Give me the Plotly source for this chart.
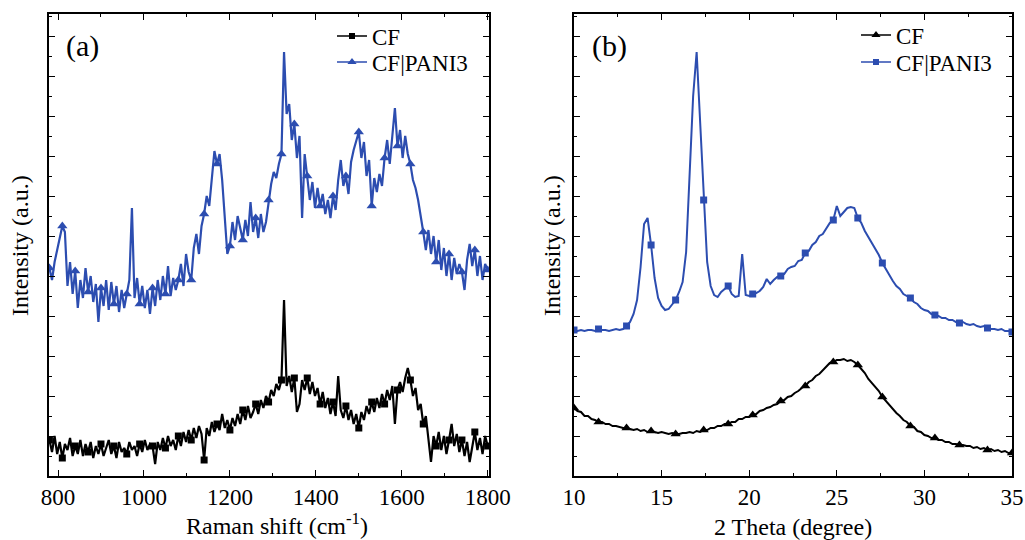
import plotly.graph_objects as go

# ---------------- Panel (a): Raman ----------------
RAMAN_SHIFT = [
    780, 786, 792, 798, 804, 810, 816, 822, 828, 834,
    840, 846, 852, 858, 864, 870, 876, 882, 888, 894,
    900, 906, 912, 918, 924, 930, 936, 942, 948, 954,
    960, 966, 972, 978, 984, 990, 996, 1002, 1008, 1014,
    1020, 1026, 1032, 1038, 1044, 1050, 1056, 1062, 1068, 1074,
    1080, 1086, 1092, 1098, 1104, 1110, 1116, 1122, 1128, 1134,
    1140, 1146, 1152, 1158, 1164, 1170, 1176, 1182, 1188, 1194,
    1200, 1206, 1212, 1218, 1224, 1230, 1236, 1242, 1248, 1254,
    1260, 1266, 1272, 1278, 1284, 1290, 1296, 1302, 1308, 1314,
    1320, 1326, 1332, 1338, 1344, 1350, 1356, 1362, 1368, 1374,
    1380, 1386, 1392, 1398, 1404, 1410, 1416, 1422, 1428, 1434,
    1440, 1446, 1452, 1458, 1464, 1470, 1476, 1482, 1488, 1494,
    1500, 1506, 1512, 1518, 1524, 1530, 1536, 1542, 1548, 1554,
    1560, 1566, 1572, 1578, 1584, 1590, 1596, 1602, 1608, 1614,
    1620, 1626, 1632, 1638, 1644, 1650, 1656, 1662, 1668, 1674,
    1680, 1686, 1692, 1698, 1704, 1710, 1716, 1722, 1728, 1734,
    1740, 1746, 1752, 1758, 1764, 1770, 1776, 1782, 1788, 1794,
    1800,
]

RAMAN_CF_PANI3 = [
    208, 196, 214, 226, 238, 250, 244, 190, 214, 182,
    205, 168, 196, 178, 208, 184, 200, 174, 192, 154,
    188, 170, 196, 166, 194, 172, 190, 164, 186, 168,
    182, 196, 268, 178, 198, 172, 190, 168, 186, 162,
    188, 170, 196, 176, 200, 182, 210, 180, 198, 186,
    196, 212, 190, 222, 204, 196, 228, 242, 222, 250,
    262, 280, 270, 300, 325, 312, 322, 296, 258, 222,
    230, 254, 236, 260, 248, 236, 256, 240, 274, 244,
    258, 238, 262, 244, 254, 276, 292, 304, 298, 312,
    322, 424, 362, 372, 336, 352, 318, 340, 258, 322,
    300, 276, 294, 268, 288, 270, 282, 262, 276, 258,
    280, 266, 296, 316, 290, 300, 282, 314, 326, 334,
    344, 318, 334, 300, 316, 270, 298, 284, 302, 290,
    318, 336, 312, 340, 368, 330, 346, 318, 340, 322,
    312, 296, 288, 276, 262, 244, 226, 246, 222, 240,
    214, 236, 206, 228, 200, 222, 196, 218, 202, 212,
    204, 186, 216, 232, 210, 226, 200, 220, 196, 212,
    206,
]

RAMAN_CF = [
    36, 24, 40, 22, 34, 18, 32, 26, 38, 20,
    30, 22, 36, 20, 32, 24, 34, 18, 30, 22,
    32, 20, 28, 36, 22, 30, 18, 34, 24, 28,
    22, 34, 26, 30, 20, 32, 24, 36, 26, 32,
    30, 12, 34, 26, 38, 28, 40, 30, 36, 26,
    40, 30, 44, 34, 46, 36, 48, 38, 50, 42,
    16, 48, 40, 54, 44, 52, 46, 62, 48, 56,
    46, 58, 50, 62, 52, 66, 56, 70, 58, 64,
    72, 62, 76, 68, 80, 74, 86, 80, 92, 86,
    96, 176, 90, 100, 84, 98, 64, 72, 96, 86,
    98, 82, 94, 80, 88, 72, 84, 68, 78, 62,
    74, 60, 100, 66, 58, 70, 56, 66, 52, 62,
    48, 64, 56, 70, 62, 74, 64, 78, 68, 82,
    72, 86, 76, 90, 52, 86, 94, 84, 98, 108,
    96, 80, 88, 66, 72, 52, 60, 36, 14, 40,
    30, 44, 26, 40, 22, 36, 52, 30, 42, 24,
    36, 20, 34, 14, 30, 44, 26, 38, 22, 40,
    30,
]

# ---------------- Panel (b): XRD ----------------
TWO_THETA = [
    10.0, 10.2, 10.4, 10.6, 10.8, 11.0, 11.2, 11.4, 11.6, 11.8,
    12.0, 12.2, 12.4, 12.6, 12.8, 13.0, 13.2, 13.4, 13.6, 13.8,
    14.0, 14.2, 14.4, 14.6, 14.8, 15.0, 15.2, 15.4, 15.6, 15.8,
    16.0, 16.2, 16.4, 16.6, 16.8, 17.0, 17.2, 17.4, 17.6, 17.8,
    18.0, 18.2, 18.4, 18.6, 18.8, 19.0, 19.2, 19.4, 19.6, 19.8,
    20.0, 20.2, 20.4, 20.6, 20.8, 21.0, 21.2, 21.4, 21.6, 21.8,
    22.0, 22.2, 22.4, 22.6, 22.8, 23.0, 23.2, 23.4, 23.6, 23.8,
    24.0, 24.2, 24.4, 24.6, 24.8, 25.0, 25.2, 25.4, 25.6, 25.8,
    26.0, 26.2, 26.4, 26.6, 26.8, 27.0, 27.2, 27.4, 27.6, 27.8,
    28.0, 28.2, 28.4, 28.6, 28.8, 29.0, 29.2, 29.4, 29.6, 29.8,
    30.0, 30.2, 30.4, 30.6, 30.8, 31.0, 31.2, 31.4, 31.6, 31.8,
    32.0, 32.2, 32.4, 32.6, 32.8, 33.0, 33.2, 33.4, 33.6, 33.8,
    34.0, 34.2, 34.4, 34.6, 34.8, 35.0,
]

XRD_CF_PANI3 = [
    146, 145, 146, 145, 146, 146, 145, 147, 146, 146,
    145, 146, 147, 146, 147, 150, 154, 162, 176, 209,
    252, 258, 231, 198, 178, 170, 166, 167, 171, 176,
    184, 194, 224, 301, 380, 424, 356, 276, 214, 190,
    181, 179, 184, 187, 190, 182, 179, 180, 222, 181,
    180, 182, 183, 185, 189, 197, 192, 196, 199, 200,
    202, 207, 209, 210, 215, 216, 223, 225, 231, 234,
    240, 242, 248, 253, 256, 270, 260, 264, 268, 269,
    268, 258, 253, 245, 239, 232, 226, 221, 213, 207,
    200, 195, 190, 187, 182, 180, 178, 174, 172, 168,
    166, 165, 162, 161, 160, 158, 158, 156, 156, 154,
    153, 154, 152, 151, 152, 150, 149, 150, 148, 147,
    147, 146, 147, 145, 145, 144,
]

XRD_CF = [
    68, 65, 64, 60, 60, 57, 56, 54, 54, 52,
    52, 50, 50, 49, 48, 48, 47, 46, 47, 45,
    46, 44, 45, 44, 43, 44, 43, 42, 43, 42,
    42, 43, 43, 44, 43, 45, 44, 46, 46, 48,
    48, 50, 50, 52, 52, 54, 54, 57, 57, 59,
    59, 61, 62, 65, 66, 68, 69, 71, 72, 75,
    76, 79, 80, 83, 85, 88, 90, 94, 96, 100,
    102, 106, 109, 113, 114, 116, 116, 117, 115, 116,
    114, 111, 107, 103, 97, 93, 88, 85, 79, 75,
    70, 67, 63, 60, 56, 54, 50, 49, 45, 44,
    41, 40, 38, 38, 36, 36, 34, 34, 32, 32,
    31, 31, 30, 30, 28, 29, 27, 28, 26, 27,
    25, 26, 24, 25, 23, 23,
]

BLUE = "#2c4db0"
BLACK = "#000000"
FONT = "Liberation Serif"

W, H = 1025, 540


def px(x):
    return x / W


def py(y):
    return (H - y) / H


fig = go.Figure()

a_idx = list(range(0, len(RAMAN_SHIFT), 5))
b_idx = [round(k * (len(TWO_THETA) - 1) / 17) for k in range(18)]


def sub(arr, idx):
    return [arr[i] for i in idx]


panel_a = [
    (RAMAN_CF, BLACK, "square", 7, "CF", "legend"),
    (RAMAN_CF_PANI3, BLUE, "triangle-up", 9, "CF|PANI3", "legend2"),
]
for yv, color, sym, size, name, leg in panel_a:
    fig.add_trace(go.Scatter(x=RAMAN_SHIFT, y=yv, mode="lines",
                             line=dict(color=color, width=2.2),
                             showlegend=False, xaxis="x", yaxis="y"))
    fig.add_trace(go.Scatter(x=sub(RAMAN_SHIFT, a_idx), y=sub(yv, a_idx), mode="markers",
                             marker=dict(color=color, symbol=sym, size=size),
                             showlegend=False, xaxis="x", yaxis="y"))
    fig.add_trace(go.Scatter(x=[None], y=[None], mode="lines+markers", name=name,
                             line=dict(color=color, width=1.5),
                             marker=dict(color=color, symbol=sym, size=size - 1),
                             legend=leg, xaxis="x", yaxis="y"))

panel_b = [
    (XRD_CF, BLACK, "triangle-up", 9, "CF", "legend3"),
    (XRD_CF_PANI3, BLUE, "square", 7, "CF|PANI3", "legend4"),
]
for yv, color, sym, size, name, leg in panel_b:
    fig.add_trace(go.Scatter(x=TWO_THETA, y=yv, mode="lines",
                             line=dict(color=color, width=2),
                             showlegend=False, xaxis="x2", yaxis="y2"))
    fig.add_trace(go.Scatter(x=sub(TWO_THETA, b_idx), y=sub(yv, b_idx), mode="markers",
                             marker=dict(color=color, symbol=sym, size=size),
                             showlegend=False, xaxis="x2", yaxis="y2"))
    fig.add_trace(go.Scatter(x=[None], y=[None], mode="lines+markers", name=name,
                             line=dict(color=color, width=1.5),
                             marker=dict(color=color, symbol=sym, size=size - 1),
                             legend=leg, xaxis="x2", yaxis="y2"))

ydom = [py(476), py(14)]

axis_common = dict(showline=True, linecolor="black", linewidth=1.5, mirror="allticks",
                   ticks="inside", ticklen=6, tickwidth=1.3, tickcolor="black",
                   showgrid=False, zeroline=False, automargin=False,
                   tickfont=dict(family=FONT, size=23, color="black"))
minor_common = dict(ticks="inside", ticklen=3, tickwidth=1.2, tickcolor="black", showgrid=False)

legend_common = dict(xanchor="left", yanchor="middle", bgcolor="rgba(0,0,0,0)",
                     font=dict(family=FONT, size=23, color="black"),
                     tracegroupgap=0, itemwidth=30)


def ann(text, x, y, size, angle=0):
    return dict(text=text, x=px(x), y=py(y), xref="paper", yref="paper",
                xanchor="center", yanchor="middle", showarrow=False, textangle=angle,
                font=dict(family=FONT, size=size, color="black"))


fig.update_layout(
    template="none",
    width=W, height=H,
    autosize=False,
    margin=dict(l=0, r=0, t=0, b=0, pad=0, autoexpand=False),
    font=dict(family=FONT, size=23, color="black"),
    paper_bgcolor="white", plot_bgcolor="white",
    xaxis=dict(domain=[px(49), px(489)], range=[779, 1803], anchor="y",
               tick0=800, dtick=200, minor=dict(dtick=100, **minor_common), **axis_common),
    yaxis=dict(domain=ydom, range=[0, 462], anchor="x", showticklabels=False,
               tick0=0, dtick=40, minor=dict(dtick=20, **minor_common), **axis_common),
    xaxis2=dict(domain=[px(574), px(1012)], range=[10, 35], anchor="y2",
                tick0=10, dtick=5, minor=dict(dtick=2.5, **minor_common), **axis_common),
    yaxis2=dict(domain=ydom, range=[0, 462], anchor="x2", showticklabels=False,
                tick0=0, dtick=40, minor=dict(dtick=20, **minor_common), **axis_common),
    legend=dict(x=px(332), y=py(36), **legend_common),
    legend2=dict(x=px(332), y=py(62), **legend_common),
    legend3=dict(x=px(856), y=py(35), **legend_common),
    legend4=dict(x=px(856), y=py(62), **legend_common),
    annotations=[
        ann("(a)", 82, 46, 30),
        ann("(b)", 609, 46, 30),
        ann("Intensity (a.u.)", 20, 246, 24, -90),
        ann("Intensity (a.u.)", 552, 246, 24, -90),
        ann("Raman shift (cm<sup>-1</sup>)", 277, 524, 24),
        ann("2 Theta (degree)", 793, 527, 24),
    ],
)

fig.write_html("out.html", config={"displayModeBar": False},
               post_script="document.body.style.margin='0';")
